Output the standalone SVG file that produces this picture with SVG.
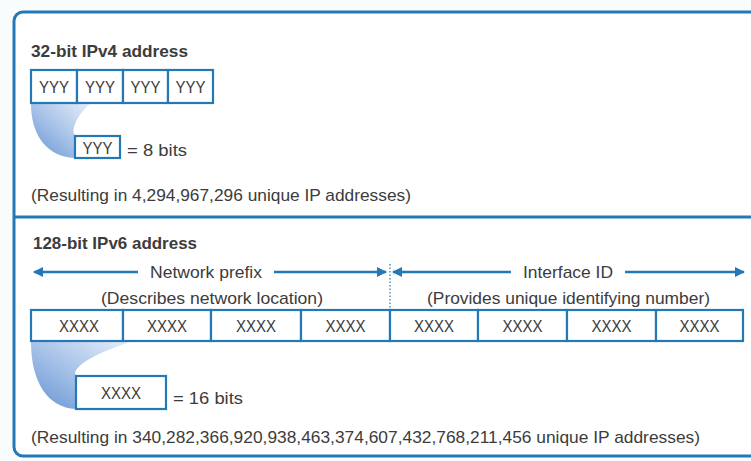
<svg xmlns="http://www.w3.org/2000/svg" width="751" height="461" viewBox="0 0 751 461">
  <style>
    .frame { fill: #ffffff; stroke: #2478b5; stroke-width: 3; }
    .cell { fill: #ffffff; stroke: #2478b5; stroke-width: 2.2; }
    .t { font-family: "Liberation Sans", Arial, sans-serif; fill: #3c3c3c; }
    .title { font-size: 17px; font-weight: bold; }
    .body { font-size: 17px; }
    .cellt { font-size: 17px; text-anchor: middle; }
    .arrow { stroke: #2478b5; stroke-width: 2.5; fill: none; }
  </style>
  <defs>
    <linearGradient id="swoosh" x1="0" y1="1" x2="1" y2="0">
      <stop offset="0" stop-color="#6593d2"/>
      <stop offset="0.5" stop-color="#a8c3e8"/>
      <stop offset="1" stop-color="#e6eef9"/>
    </linearGradient>
    <marker id="head" viewBox="0 0 10 10" refX="9" refY="5" markerWidth="4" markerHeight="4" orient="auto-start-reverse">
      <path d="M0,0 L10,5 L0,10 Z" fill="#2478b5"/>
    </marker>
  </defs>

  <rect width="751" height="461" fill="#f8fcfd"/>

  <!-- outer frame and section divider -->
  <rect class="frame" x="14" y="12" width="760" height="444" rx="9"/>
  <line x1="14" y1="217" x2="751" y2="217" stroke="#2478b5" stroke-width="3"/>

  <!-- IPv4 section -->
  <g id="ipv4">
    <text class="t title" x="31" y="57" textLength="157" lengthAdjust="spacingAndGlyphs">32-bit IPv4 address</text>
    <path d="M31,104 C31,136 48,157 75,158 L75,136 C70,128 80,112 90,104 Z" fill="url(#swoosh)"/>
    <g id="ipv4-octets">
      <rect class="cell" x="31" y="70" width="46" height="33"/>
      <rect class="cell" x="77" y="70" width="46" height="33"/>
      <rect class="cell" x="123" y="70" width="45" height="33"/>
      <rect class="cell" x="168" y="70" width="45" height="33"/>
      <text class="t cellt" x="54" y="93" textLength="30" lengthAdjust="spacingAndGlyphs">YYY</text>
      <text class="t cellt" x="100" y="93" textLength="30" lengthAdjust="spacingAndGlyphs">YYY</text>
      <text class="t cellt" x="145.5" y="93" textLength="30" lengthAdjust="spacingAndGlyphs">YYY</text>
      <text class="t cellt" x="190.5" y="93" textLength="30" lengthAdjust="spacingAndGlyphs">YYY</text>
    </g>
    <g id="ipv4-octet">
      <rect class="cell" x="75" y="136" width="45" height="22"/>
      <text class="t cellt" x="97.5" y="154" textLength="30" lengthAdjust="spacingAndGlyphs">YYY</text>
      <text class="t body" x="127" y="156" textLength="60" lengthAdjust="spacingAndGlyphs">= 8 bits</text>
    </g>
    <text class="t body" x="31" y="201" textLength="380" lengthAdjust="spacingAndGlyphs">(Resulting in 4,294,967,296 unique IP addresses)</text>
  </g>

  <!-- IPv6 section -->
  <g id="ipv6">
    <text class="t title" x="33" y="249" textLength="164" lengthAdjust="spacingAndGlyphs">128-bit IPv6 address</text>

    <g id="connectors">
      <line class="arrow" x1="34" y1="272" x2="138" y2="272" marker-start="url(#head)"/>
      <line class="arrow" x1="274" y1="272" x2="386" y2="272" marker-end="url(#head)"/>
      <line class="arrow" x1="393" y1="272" x2="511" y2="272" marker-start="url(#head)"/>
      <line class="arrow" x1="625" y1="272" x2="744" y2="272" marker-end="url(#head)"/>
      <line x1="390" y1="264" x2="390" y2="310" stroke="#2478b5" stroke-width="1.2" stroke-dasharray="1.5,2"/>
    </g>

    <text class="t body" x="150" y="278" textLength="112" lengthAdjust="spacingAndGlyphs">Network prefix</text>
    <text class="t body" x="101" y="304" textLength="222" lengthAdjust="spacingAndGlyphs">(Describes network location)</text>
    <text class="t body" x="523" y="278" textLength="90" lengthAdjust="spacingAndGlyphs">Interface ID</text>
    <text class="t body" x="427" y="304" textLength="283" lengthAdjust="spacingAndGlyphs">(Provides unique identifying number)</text>

    <path d="M31,342 C31,382 48,408 76,409 L76,376 C70,366 100,352 130,342 Z" fill="url(#swoosh)"/>

    <g id="ipv6-groups">
      <rect class="cell" x="31" y="310" width="92" height="31"/>
      <rect class="cell" x="123" y="310" width="88" height="31"/>
      <rect class="cell" x="211" y="310" width="90" height="31"/>
      <rect class="cell" x="301" y="310" width="89" height="31"/>
      <rect class="cell" x="390" y="310" width="88" height="31"/>
      <rect class="cell" x="478" y="310" width="89" height="31"/>
      <rect class="cell" x="567" y="310" width="89" height="31"/>
      <rect class="cell" x="656" y="310" width="87" height="31"/>
      <text class="t cellt" x="79" y="332" textLength="40" lengthAdjust="spacingAndGlyphs">XXXX</text>
      <text class="t cellt" x="167" y="332" textLength="40" lengthAdjust="spacingAndGlyphs">XXXX</text>
      <text class="t cellt" x="256" y="332" textLength="40" lengthAdjust="spacingAndGlyphs">XXXX</text>
      <text class="t cellt" x="345.5" y="332" textLength="40" lengthAdjust="spacingAndGlyphs">XXXX</text>
      <text class="t cellt" x="434" y="332" textLength="40" lengthAdjust="spacingAndGlyphs">XXXX</text>
      <text class="t cellt" x="522.5" y="332" textLength="40" lengthAdjust="spacingAndGlyphs">XXXX</text>
      <text class="t cellt" x="611.5" y="332" textLength="40" lengthAdjust="spacingAndGlyphs">XXXX</text>
      <text class="t cellt" x="699.5" y="332" textLength="40" lengthAdjust="spacingAndGlyphs">XXXX</text>
    </g>
    <g id="ipv6-group">
      <rect class="cell" x="76" y="376" width="90" height="33"/>
      <text class="t cellt" x="121" y="399" textLength="40" lengthAdjust="spacingAndGlyphs">XXXX</text>
      <text class="t body" x="173" y="404" textLength="70" lengthAdjust="spacingAndGlyphs">= 16 bits</text>
    </g>
    <text class="t body" x="31" y="443" textLength="669" lengthAdjust="spacingAndGlyphs">(Resulting in 340,282,366,920,938,463,374,607,432,768,211,456 unique IP addresses)</text>
  </g>
</svg>
